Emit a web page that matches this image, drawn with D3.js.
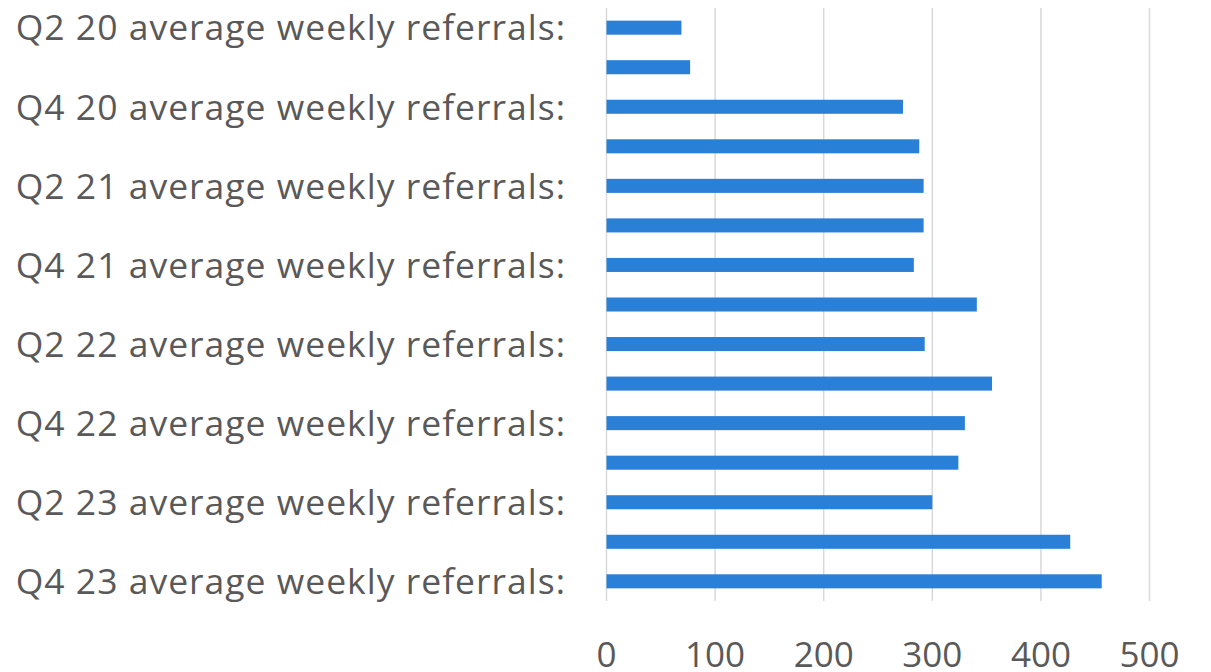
<!DOCTYPE html>
<html><head><meta charset="utf-8">
<script src="https://cdn.jsdelivr.net/npm/d3@7"></script>
<style>body{margin:0;background:#fff;} svg{display:block;}</style>
</head><body>
<svg id="c" width="1211" height="672"></svg>
<script>
const categories = ["Q2 20 average weekly referrals:","Q3 20 average weekly referrals:","Q4 20 average weekly referrals:","Q1 21 average weekly referrals:","Q2 21 average weekly referrals:","Q3 21 average weekly referrals:","Q4 21 average weekly referrals:","Q1 22 average weekly referrals:","Q2 22 average weekly referrals:","Q3 22 average weekly referrals:","Q4 22 average weekly referrals:","Q1 23 average weekly referrals:","Q2 23 average weekly referrals:","Q3 23 average weekly referrals:","Q4 23 average weekly referrals:"];
const values = [69, 77, 273, 288, 292, 292, 283, 341, 293, 355, 330, 324, 300, 427, 456];
const xTicks = [0, 100, 200, 300, 400, 500];

(function () {
const svg = d3.select("#c");
const L = 606.5, R = 1149.5, T = 8, B = 601;
const x = d3.scaleLinear().domain([0, 500]).range([L, R]);
const y = d3.scaleBand().domain(categories).range([T, B]).paddingInner(0.645).paddingOuter(0.32);
const font = "'Open Sans', sans-serif";

svg.append("g").selectAll("line").data(xTicks).join("line")
  .attr("x1", d => x(d)).attr("x2", d => x(d))
  .attr("y1", T).attr("y2", B)
  .attr("stroke", "#d9d9d9").attr("stroke-width", 1.5);

svg.append("g").selectAll("rect").data(values).join("rect")
  .attr("x", x(0)).attr("y", (d, i) => y(categories[i]))
  .attr("width", d => x(d) - x(0)).attr("height", y.bandwidth())
  .attr("fill", "#2a7fd6");

svg.append("g").selectAll("text").data(categories).join("text")
  .attr("x", 566).attr("y", d => y(d) + y.bandwidth() / 2)
  .attr("dy", "0.36em").attr("text-anchor", "end")
  .attr("font-family", font).attr("font-size", 35.5).attr("letter-spacing", 1)
  .attr("fill", "#595959")
  .text((d, i) => i % 2 === 0 ? d : "");

svg.append("g").selectAll("text").data(xTicks).join("text")
  .attr("x", d => x(d)).attr("y", 667).attr("text-anchor", "middle")
  .attr("font-family", font).attr("font-size", 35).attr("fill", "#595959")
  .text(d => d);
})();
</script>
</body></html>
